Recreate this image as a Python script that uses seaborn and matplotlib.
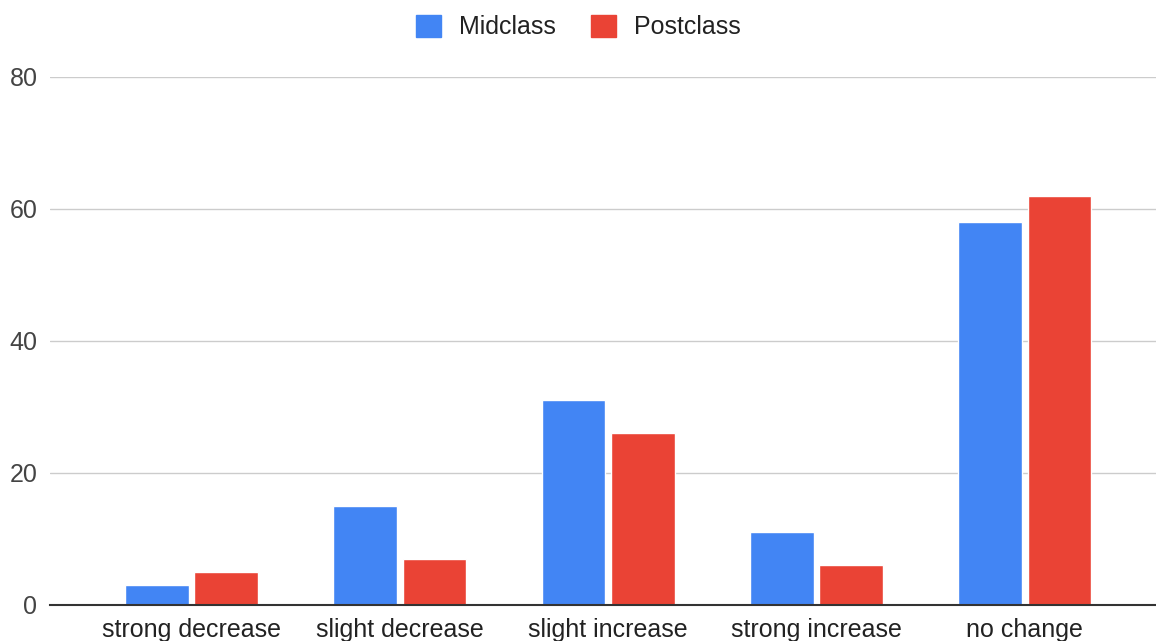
import matplotlib
matplotlib.use("Agg")
import matplotlib.pyplot as plt
import seaborn as sns
import pandas as pd
from matplotlib.patches import Patch

# data
categories = ["strong decrease", "slight decrease", "slight increase", "strong increase", "no change"]
midclass = [3, 15, 31, 11, 58]
postclass = [5, 7, 26, 6, 62]
series = ["Midclass", "Postclass"]
colors = ["#4285F4", "#EA4335"]

df = pd.DataFrame({
    "category": categories * 2,
    "value": midclass + postclass,
    "series": [series[0]] * len(categories) + [series[1]] * len(categories),
})

sns.set_style("white")
plt.rcParams["font.family"] = ["Liberation Sans", "DejaVu Sans"]

fig = plt.figure(figsize=(11.56, 6.41), dpi=100)
ax = fig.add_axes([50 / 1156, 36 / 641, 1106 / 1156, 528 / 641])

sns.barplot(data=df, x="category", y="value", hue="series", palette=colors,
            width=0.665, gap=0.08, saturation=1, legend=False, ax=ax)

ax.set_xlim(-0.68, 4.63)
ax.set_ylim(0, 80)
ax.set_yticks([0, 20, 40, 60, 80])
ax.yaxis.grid(True, color="#cccccc", linewidth=1)
ax.set_axisbelow(True)
for s in ["top", "right", "left"]:
    ax.spines[s].set_visible(False)
ax.spines["bottom"].set_color("#333333")
ax.spines["bottom"].set_linewidth(1.5)
ax.set_xlabel("")
ax.set_ylabel("")
ax.tick_params(axis="x", length=0, pad=9, labelsize=18, labelcolor="#222222")
ax.tick_params(axis="y", length=0, pad=9, labelsize=18, labelcolor="#444444")

handles = [Patch(facecolor=c, edgecolor=c) for c in colors]
fig.legend(handles, series, loc="center", bbox_to_anchor=(0.5, 1 - 27 / 641),
           ncol=2, frameon=False, fontsize=18, handlelength=1.0, handleheight=1.0,
           columnspacing=1.4, handletextpad=0.72, labelcolor="#222222")

fig.savefig("out.png", dpi=100)
